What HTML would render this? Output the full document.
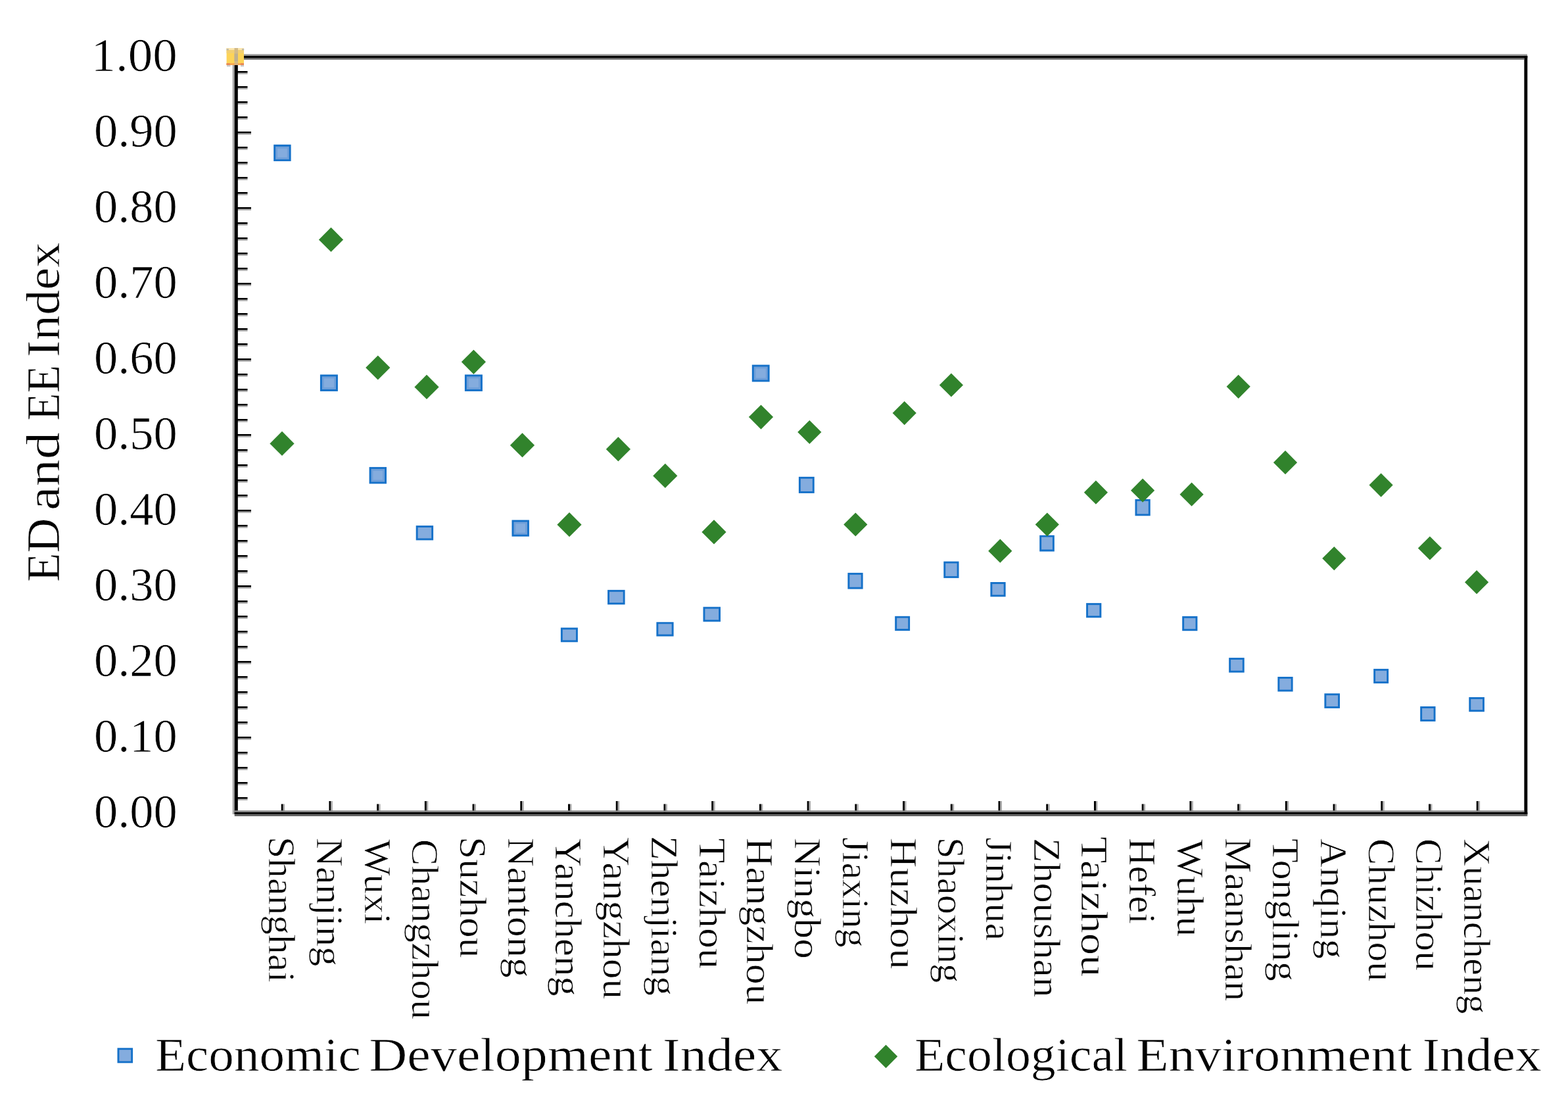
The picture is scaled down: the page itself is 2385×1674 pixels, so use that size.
<!DOCTYPE html>
<html><head><meta charset="utf-8"><title>ED and EE Index</title>
<style>html,body{margin:0;padding:0;background:#fff;}body{width:2385px;height:1674px;overflow:hidden;}svg{display:block;}</style>
</head><body>
<svg width="2385" height="1674" viewBox="0 0 2385 1674">
<rect width="2385" height="1674" fill="#fff"/>
<rect x="361" y="1212.00" width="15.5" height="2.8" fill="#000"/>
<rect x="361" y="1214.80" width="15.5" height="2.2" fill="#b4b4b4"/>
<rect x="361" y="1189.00" width="15.5" height="2.8" fill="#000"/>
<rect x="361" y="1191.80" width="15.5" height="2.2" fill="#b4b4b4"/>
<rect x="361" y="1166.00" width="15.5" height="2.8" fill="#000"/>
<rect x="361" y="1168.80" width="15.5" height="2.2" fill="#b4b4b4"/>
<rect x="361" y="1143.00" width="15.5" height="2.8" fill="#000"/>
<rect x="361" y="1145.80" width="15.5" height="2.2" fill="#b4b4b4"/>
<rect x="361" y="1120.00" width="21" height="2.8" fill="#000"/>
<rect x="361" y="1122.80" width="21" height="2.2" fill="#b4b4b4"/>
<rect x="361" y="1097.00" width="15.5" height="2.8" fill="#000"/>
<rect x="361" y="1099.80" width="15.5" height="2.2" fill="#b4b4b4"/>
<rect x="361" y="1074.00" width="15.5" height="2.8" fill="#000"/>
<rect x="361" y="1076.80" width="15.5" height="2.2" fill="#b4b4b4"/>
<rect x="361" y="1051.00" width="15.5" height="2.8" fill="#000"/>
<rect x="361" y="1053.80" width="15.5" height="2.2" fill="#b4b4b4"/>
<rect x="361" y="1028.00" width="15.5" height="2.8" fill="#000"/>
<rect x="361" y="1030.80" width="15.5" height="2.2" fill="#b4b4b4"/>
<rect x="361" y="1005.00" width="21" height="2.8" fill="#000"/>
<rect x="361" y="1007.80" width="21" height="2.2" fill="#b4b4b4"/>
<rect x="361" y="982.00" width="15.5" height="2.8" fill="#000"/>
<rect x="361" y="984.80" width="15.5" height="2.2" fill="#b4b4b4"/>
<rect x="361" y="959.00" width="15.5" height="2.8" fill="#000"/>
<rect x="361" y="961.80" width="15.5" height="2.2" fill="#b4b4b4"/>
<rect x="361" y="936.00" width="15.5" height="2.8" fill="#000"/>
<rect x="361" y="938.80" width="15.5" height="2.2" fill="#b4b4b4"/>
<rect x="361" y="913.00" width="15.5" height="2.8" fill="#000"/>
<rect x="361" y="915.80" width="15.5" height="2.2" fill="#b4b4b4"/>
<rect x="361" y="890.00" width="21" height="2.8" fill="#000"/>
<rect x="361" y="892.80" width="21" height="2.2" fill="#b4b4b4"/>
<rect x="361" y="867.00" width="15.5" height="2.8" fill="#000"/>
<rect x="361" y="869.80" width="15.5" height="2.2" fill="#b4b4b4"/>
<rect x="361" y="844.00" width="15.5" height="2.8" fill="#000"/>
<rect x="361" y="846.80" width="15.5" height="2.2" fill="#b4b4b4"/>
<rect x="361" y="821.00" width="15.5" height="2.8" fill="#000"/>
<rect x="361" y="823.80" width="15.5" height="2.2" fill="#b4b4b4"/>
<rect x="361" y="798.00" width="15.5" height="2.8" fill="#000"/>
<rect x="361" y="800.80" width="15.5" height="2.2" fill="#b4b4b4"/>
<rect x="361" y="775.00" width="21" height="2.8" fill="#000"/>
<rect x="361" y="777.80" width="21" height="2.2" fill="#b4b4b4"/>
<rect x="361" y="752.00" width="15.5" height="2.8" fill="#000"/>
<rect x="361" y="754.80" width="15.5" height="2.2" fill="#b4b4b4"/>
<rect x="361" y="729.00" width="15.5" height="2.8" fill="#000"/>
<rect x="361" y="731.80" width="15.5" height="2.2" fill="#b4b4b4"/>
<rect x="361" y="706.00" width="15.5" height="2.8" fill="#000"/>
<rect x="361" y="708.80" width="15.5" height="2.2" fill="#b4b4b4"/>
<rect x="361" y="683.00" width="15.5" height="2.8" fill="#000"/>
<rect x="361" y="685.80" width="15.5" height="2.2" fill="#b4b4b4"/>
<rect x="361" y="660.00" width="21" height="2.8" fill="#000"/>
<rect x="361" y="662.80" width="21" height="2.2" fill="#b4b4b4"/>
<rect x="361" y="637.00" width="15.5" height="2.8" fill="#000"/>
<rect x="361" y="639.80" width="15.5" height="2.2" fill="#b4b4b4"/>
<rect x="361" y="614.00" width="15.5" height="2.8" fill="#000"/>
<rect x="361" y="616.80" width="15.5" height="2.2" fill="#b4b4b4"/>
<rect x="361" y="591.00" width="15.5" height="2.8" fill="#000"/>
<rect x="361" y="593.80" width="15.5" height="2.2" fill="#b4b4b4"/>
<rect x="361" y="568.00" width="15.5" height="2.8" fill="#000"/>
<rect x="361" y="570.80" width="15.5" height="2.2" fill="#b4b4b4"/>
<rect x="361" y="545.00" width="21" height="2.8" fill="#000"/>
<rect x="361" y="547.80" width="21" height="2.2" fill="#b4b4b4"/>
<rect x="361" y="522.00" width="15.5" height="2.8" fill="#000"/>
<rect x="361" y="524.80" width="15.5" height="2.2" fill="#b4b4b4"/>
<rect x="361" y="499.00" width="15.5" height="2.8" fill="#000"/>
<rect x="361" y="501.80" width="15.5" height="2.2" fill="#b4b4b4"/>
<rect x="361" y="476.00" width="15.5" height="2.8" fill="#000"/>
<rect x="361" y="478.80" width="15.5" height="2.2" fill="#b4b4b4"/>
<rect x="361" y="453.00" width="15.5" height="2.8" fill="#000"/>
<rect x="361" y="455.80" width="15.5" height="2.2" fill="#b4b4b4"/>
<rect x="361" y="430.00" width="21" height="2.8" fill="#000"/>
<rect x="361" y="432.80" width="21" height="2.2" fill="#b4b4b4"/>
<rect x="361" y="407.00" width="15.5" height="2.8" fill="#000"/>
<rect x="361" y="409.80" width="15.5" height="2.2" fill="#b4b4b4"/>
<rect x="361" y="384.00" width="15.5" height="2.8" fill="#000"/>
<rect x="361" y="386.80" width="15.5" height="2.2" fill="#b4b4b4"/>
<rect x="361" y="361.00" width="15.5" height="2.8" fill="#000"/>
<rect x="361" y="363.80" width="15.5" height="2.2" fill="#b4b4b4"/>
<rect x="361" y="338.00" width="15.5" height="2.8" fill="#000"/>
<rect x="361" y="340.80" width="15.5" height="2.2" fill="#b4b4b4"/>
<rect x="361" y="315.00" width="21" height="2.8" fill="#000"/>
<rect x="361" y="317.80" width="21" height="2.2" fill="#b4b4b4"/>
<rect x="361" y="292.00" width="15.5" height="2.8" fill="#000"/>
<rect x="361" y="294.80" width="15.5" height="2.2" fill="#b4b4b4"/>
<rect x="361" y="269.00" width="15.5" height="2.8" fill="#000"/>
<rect x="361" y="271.80" width="15.5" height="2.2" fill="#b4b4b4"/>
<rect x="361" y="246.00" width="15.5" height="2.8" fill="#000"/>
<rect x="361" y="248.80" width="15.5" height="2.2" fill="#b4b4b4"/>
<rect x="361" y="223.00" width="15.5" height="2.8" fill="#000"/>
<rect x="361" y="225.80" width="15.5" height="2.2" fill="#b4b4b4"/>
<rect x="361" y="200.00" width="21" height="2.8" fill="#000"/>
<rect x="361" y="202.80" width="21" height="2.2" fill="#b4b4b4"/>
<rect x="361" y="177.00" width="15.5" height="2.8" fill="#000"/>
<rect x="361" y="179.80" width="15.5" height="2.2" fill="#b4b4b4"/>
<rect x="361" y="154.00" width="15.5" height="2.8" fill="#000"/>
<rect x="361" y="156.80" width="15.5" height="2.2" fill="#b4b4b4"/>
<rect x="361" y="131.00" width="15.5" height="2.8" fill="#000"/>
<rect x="361" y="133.80" width="15.5" height="2.2" fill="#b4b4b4"/>
<rect x="361" y="108.00" width="15.5" height="2.8" fill="#000"/>
<rect x="361" y="110.80" width="15.5" height="2.2" fill="#b4b4b4"/>
<rect x="427.72" y="1222.5" width="3" height="12.5" fill="#000"/>
<rect x="430.72" y="1222.5" width="2.4" height="12.5" fill="#aaa"/>
<rect x="500.44" y="1218" width="3" height="17" fill="#000"/>
<rect x="503.44" y="1218" width="2.4" height="17" fill="#aaa"/>
<rect x="573.16" y="1222.5" width="3" height="12.5" fill="#000"/>
<rect x="576.16" y="1222.5" width="2.4" height="12.5" fill="#aaa"/>
<rect x="645.88" y="1218" width="3" height="17" fill="#000"/>
<rect x="648.88" y="1218" width="2.4" height="17" fill="#aaa"/>
<rect x="718.60" y="1222.5" width="3" height="12.5" fill="#000"/>
<rect x="721.60" y="1222.5" width="2.4" height="12.5" fill="#aaa"/>
<rect x="791.32" y="1218" width="3" height="17" fill="#000"/>
<rect x="794.32" y="1218" width="2.4" height="17" fill="#aaa"/>
<rect x="864.04" y="1222.5" width="3" height="12.5" fill="#000"/>
<rect x="867.04" y="1222.5" width="2.4" height="12.5" fill="#aaa"/>
<rect x="936.76" y="1218" width="3" height="17" fill="#000"/>
<rect x="939.76" y="1218" width="2.4" height="17" fill="#aaa"/>
<rect x="1009.48" y="1222.5" width="3" height="12.5" fill="#000"/>
<rect x="1012.48" y="1222.5" width="2.4" height="12.5" fill="#aaa"/>
<rect x="1082.20" y="1218" width="3" height="17" fill="#000"/>
<rect x="1085.20" y="1218" width="2.4" height="17" fill="#aaa"/>
<rect x="1154.92" y="1222.5" width="3" height="12.5" fill="#000"/>
<rect x="1157.92" y="1222.5" width="2.4" height="12.5" fill="#aaa"/>
<rect x="1227.64" y="1218" width="3" height="17" fill="#000"/>
<rect x="1230.64" y="1218" width="2.4" height="17" fill="#aaa"/>
<rect x="1300.36" y="1222.5" width="3" height="12.5" fill="#000"/>
<rect x="1303.36" y="1222.5" width="2.4" height="12.5" fill="#aaa"/>
<rect x="1373.08" y="1218" width="3" height="17" fill="#000"/>
<rect x="1376.08" y="1218" width="2.4" height="17" fill="#aaa"/>
<rect x="1445.80" y="1222.5" width="3" height="12.5" fill="#000"/>
<rect x="1448.80" y="1222.5" width="2.4" height="12.5" fill="#aaa"/>
<rect x="1518.52" y="1218" width="3" height="17" fill="#000"/>
<rect x="1521.52" y="1218" width="2.4" height="17" fill="#aaa"/>
<rect x="1591.24" y="1222.5" width="3" height="12.5" fill="#000"/>
<rect x="1594.24" y="1222.5" width="2.4" height="12.5" fill="#aaa"/>
<rect x="1663.96" y="1218" width="3" height="17" fill="#000"/>
<rect x="1666.96" y="1218" width="2.4" height="17" fill="#aaa"/>
<rect x="1736.68" y="1222.5" width="3" height="12.5" fill="#000"/>
<rect x="1739.68" y="1222.5" width="2.4" height="12.5" fill="#aaa"/>
<rect x="1809.40" y="1218" width="3" height="17" fill="#000"/>
<rect x="1812.40" y="1218" width="2.4" height="17" fill="#aaa"/>
<rect x="1882.12" y="1222.5" width="3" height="12.5" fill="#000"/>
<rect x="1885.12" y="1222.5" width="2.4" height="12.5" fill="#aaa"/>
<rect x="1954.84" y="1218" width="3" height="17" fill="#000"/>
<rect x="1957.84" y="1218" width="2.4" height="17" fill="#aaa"/>
<rect x="2027.56" y="1222.5" width="3" height="12.5" fill="#000"/>
<rect x="2030.56" y="1222.5" width="2.4" height="12.5" fill="#aaa"/>
<rect x="2100.28" y="1218" width="3" height="17" fill="#000"/>
<rect x="2103.28" y="1218" width="2.4" height="17" fill="#aaa"/>
<rect x="2173.00" y="1222.5" width="3" height="12.5" fill="#000"/>
<rect x="2176.00" y="1222.5" width="2.4" height="12.5" fill="#aaa"/>
<rect x="2245.72" y="1218" width="3" height="17" fill="#000"/>
<rect x="2248.72" y="1218" width="2.4" height="17" fill="#aaa"/>
<rect x="357" y="82.3" width="1966" height="2.6" fill="#9a9a9a"/>
<rect x="357" y="84.9" width="1966.3" height="3.4" fill="#000"/>
<rect x="357" y="88.3" width="1961" height="2.3" fill="#5a5a5a"/>
<rect x="353.6" y="86" width="3.2" height="1152" fill="#ababab"/>
<rect x="356.7" y="85" width="5.1" height="1153" fill="#000"/>
<rect x="2318.4" y="84.9" width="4.9" height="1153.5" fill="#000"/>
<rect x="357" y="1232.3" width="1961" height="2.6" fill="#8a8a8a"/>
<rect x="356.7" y="1234.9" width="1966.6" height="3.3" fill="#000"/>
<rect x="356.7" y="1238.2" width="1966.6" height="2.8" fill="#626262"/>
<g><rect x="344.6" y="73" width="26.4" height="26" fill="#fdd458"/><rect x="344.6" y="73" width="26.4" height="3.2" fill="#fce6ad"/><rect x="344.6" y="76" width="26.4" height="5" fill="#f2cf72"/><rect x="356.5" y="73" width="5.5" height="26" fill="#d2ba88"/><rect x="356.5" y="81.5" width="5.5" height="11.5" fill="#bfb08f"/><rect x="344.6" y="96" width="26.4" height="3" fill="#f7a750"/><rect x="344.6" y="96" width="5" height="3" fill="#e98a55"/><rect x="366" y="96" width="5" height="3" fill="#e98a55"/><rect x="356.5" y="96" width="5.5" height="3" fill="#dcb27c"/><rect x="344.6" y="74" width="3.2" height="2.4" fill="#a8a8a8" opacity="0.7"/><rect x="368" y="74" width="3.2" height="2.4" fill="#a8a8a8" opacity="0.7"/><rect x="345" y="99" width="5.5" height="2.4" fill="#a8a8a8" opacity="0.6"/><rect x="366" y="99" width="5" height="2.4" fill="#a8a8a8" opacity="0.6"/></g>
<rect x="416.2" y="219.8" width="26.4" height="25.3" fill="#1571c9"/>
<rect x="419.1" y="222.8" width="20.6" height="19.5" fill="#6f9fd9"/>
<rect x="422.0" y="225.7" width="14.8" height="13.7" fill="#84acde"/>
<rect x="486.9" y="569.5" width="27.0" height="25.4" fill="#1571c9"/>
<rect x="489.8" y="572.4" width="21.2" height="19.6" fill="#6f9fd9"/>
<rect x="492.7" y="575.3" width="15.4" height="13.8" fill="#84acde"/>
<rect x="561.6" y="710.1" width="26.4" height="25.4" fill="#1571c9"/>
<rect x="564.5" y="713.0" width="20.6" height="19.6" fill="#6f9fd9"/>
<rect x="567.4" y="715.9" width="14.8" height="13.8" fill="#84acde"/>
<rect x="632.7" y="799.1" width="26.4" height="22.3" fill="#1571c9"/>
<rect x="635.6" y="802.0" width="20.6" height="16.5" fill="#84acde"/>
<rect x="706.9" y="569.5" width="27.0" height="25.4" fill="#1571c9"/>
<rect x="709.8" y="572.4" width="21.2" height="19.6" fill="#6f9fd9"/>
<rect x="712.7" y="575.3" width="15.4" height="13.8" fill="#84acde"/>
<rect x="778.5" y="790.6" width="26.4" height="25.1" fill="#1571c9"/>
<rect x="781.4" y="793.5" width="20.6" height="19.3" fill="#6f9fd9"/>
<rect x="784.3" y="796.4" width="14.8" height="13.5" fill="#84acde"/>
<rect x="852.9" y="954.3" width="26.0" height="22.0" fill="#1571c9"/>
<rect x="855.8" y="957.2" width="20.2" height="16.2" fill="#84acde"/>
<rect x="924.1" y="896.9" width="26.5" height="22.3" fill="#1571c9"/>
<rect x="927.0" y="899.8" width="20.7" height="16.5" fill="#84acde"/>
<rect x="998.4" y="945.8" width="26.2" height="21.7" fill="#1571c9"/>
<rect x="1001.3" y="948.6" width="20.4" height="15.9" fill="#84acde"/>
<rect x="1069.5" y="922.7" width="26.5" height="22.6" fill="#1571c9"/>
<rect x="1072.4" y="925.6" width="20.7" height="16.8" fill="#84acde"/>
<rect x="1143.8" y="554.6" width="26.8" height="25.9" fill="#1571c9"/>
<rect x="1146.7" y="557.5" width="21.0" height="20.1" fill="#6f9fd9"/>
<rect x="1149.6" y="560.4" width="15.2" height="14.3" fill="#84acde"/>
<rect x="1214.9" y="724.9" width="23.8" height="25.0" fill="#1571c9"/>
<rect x="1217.8" y="727.8" width="18.0" height="19.2" fill="#84acde"/>
<rect x="1289.4" y="870.9" width="23.2" height="24.7" fill="#1571c9"/>
<rect x="1292.3" y="873.8" width="17.4" height="18.9" fill="#84acde"/>
<rect x="1361.2" y="936.8" width="22.9" height="22.3" fill="#1571c9"/>
<rect x="1364.2" y="939.6" width="17.1" height="16.5" fill="#84acde"/>
<rect x="1435.3" y="853.6" width="23.2" height="25.3" fill="#1571c9"/>
<rect x="1438.2" y="856.5" width="17.4" height="19.5" fill="#84acde"/>
<rect x="1506.4" y="885.0" width="23.2" height="22.3" fill="#1571c9"/>
<rect x="1509.3" y="887.9" width="17.4" height="16.5" fill="#84acde"/>
<rect x="1581.2" y="813.8" width="22.6" height="24.7" fill="#1571c9"/>
<rect x="1584.1" y="816.6" width="16.8" height="18.9" fill="#84acde"/>
<rect x="1652.1" y="916.9" width="23.2" height="22.3" fill="#1571c9"/>
<rect x="1655.0" y="919.8" width="17.4" height="16.5" fill="#84acde"/>
<rect x="1726.5" y="759.0" width="23.2" height="25.3" fill="#1571c9"/>
<rect x="1729.4" y="761.9" width="17.4" height="19.5" fill="#84acde"/>
<rect x="1798.2" y="936.9" width="23.2" height="22.3" fill="#1571c9"/>
<rect x="1801.1" y="939.8" width="17.4" height="16.5" fill="#84acde"/>
<rect x="1869.2" y="1000.1" width="23.5" height="22.5" fill="#1571c9"/>
<rect x="1872.1" y="1003.0" width="17.7" height="16.7" fill="#84acde"/>
<rect x="1943.4" y="1029.0" width="23.2" height="22.5" fill="#1571c9"/>
<rect x="1946.3" y="1031.9" width="17.4" height="16.7" fill="#84acde"/>
<rect x="2014.4" y="1054.3" width="23.6" height="22.6" fill="#1571c9"/>
<rect x="2017.3" y="1057.2" width="17.8" height="16.8" fill="#84acde"/>
<rect x="2089.2" y="1016.9" width="22.9" height="22.2" fill="#1571c9"/>
<rect x="2092.1" y="1019.8" width="17.1" height="16.4" fill="#84acde"/>
<rect x="2160.2" y="1074.0" width="23.3" height="22.9" fill="#1571c9"/>
<rect x="2163.1" y="1076.9" width="17.5" height="17.1" fill="#84acde"/>
<rect x="2234.3" y="1060.0" width="23.6" height="22.2" fill="#1571c9"/>
<rect x="2237.2" y="1062.9" width="17.8" height="16.4" fill="#84acde"/>
<polygon points="429.0,655.8 447.6,674.4 429.0,693.0 410.4,674.4" fill="#31832c"/>
<polygon points="503.5,345.8 522.1,364.4 503.5,383.0 484.9,364.4" fill="#31832c"/>
<polygon points="574.8,540.4 593.4,559.0 574.8,577.6 556.2,559.0" fill="#31832c"/>
<polygon points="649.0,569.8 667.6,588.4 649.0,607.0 630.4,588.4" fill="#31832c"/>
<polygon points="720.4,531.7 739.0,550.3 720.4,568.9 701.8,550.3" fill="#31832c"/>
<polygon points="794.5,658.3 813.1,676.9 794.5,695.5 775.9,676.9" fill="#31832c"/>
<polygon points="866.0,779.1 884.6,797.7 866.0,816.3 847.4,797.7" fill="#31832c"/>
<polygon points="940.4,664.3 959.0,682.9 940.4,701.5 921.8,682.9" fill="#31832c"/>
<polygon points="1011.8,704.8 1030.4,723.4 1011.8,742.0 993.2,723.4" fill="#31832c"/>
<polygon points="1086.0,790.3 1104.6,808.9 1086.0,827.5 1067.4,808.9" fill="#31832c"/>
<polygon points="1157.5,615.5 1176.1,634.1 1157.5,652.7 1138.9,634.1" fill="#31832c"/>
<polygon points="1231.3,638.9 1249.4,657.0 1231.3,675.1 1213.2,657.0" fill="#31832c"/>
<polygon points="1301.3,779.4 1319.4,797.5 1301.3,815.6 1283.2,797.5" fill="#31832c"/>
<polygon points="1375.7,610.0 1393.8,628.1 1375.7,646.2 1357.6,628.1" fill="#31832c"/>
<polygon points="1446.9,567.4 1465.0,585.5 1446.9,603.6 1428.8,585.5" fill="#31832c"/>
<polygon points="1521.3,819.6 1539.4,837.7 1521.3,855.8 1503.2,837.7" fill="#31832c"/>
<polygon points="1592.8,779.4 1610.9,797.5 1592.8,815.6 1574.7,797.5" fill="#31832c"/>
<polygon points="1666.9,730.6 1685.0,748.7 1666.9,766.8 1648.8,748.7" fill="#31832c"/>
<polygon points="1738.1,727.6 1756.2,745.7 1738.1,763.8 1720.0,745.7" fill="#31832c"/>
<polygon points="1812.6,733.6 1830.7,751.7 1812.6,769.8 1794.5,751.7" fill="#31832c"/>
<polygon points="1883.7,569.7 1901.8,587.8 1883.7,605.9 1865.6,587.8" fill="#31832c"/>
<polygon points="1955.0,685.1 1973.1,703.2 1955.0,721.3 1936.9,703.2" fill="#31832c"/>
<polygon points="2029.3,831.0 2047.4,849.1 2029.3,867.2 2011.2,849.1" fill="#31832c"/>
<polygon points="2100.6,719.5 2118.7,737.6 2100.6,755.7 2082.5,737.6" fill="#31832c"/>
<polygon points="2174.9,815.4 2193.0,833.5 2174.9,851.6 2156.8,833.5" fill="#31832c"/>
<polygon points="2246.1,867.1 2264.2,885.2 2246.1,903.3 2228.0,885.2" fill="#31832c"/>
<rect x="178.5" y="1593.3" width="23.6" height="23" fill="#1571c9"/>
<rect x="181.4" y="1596.2" width="17.8" height="17.2" fill="#84acde"/>
<polygon points="1347.5,1588.6 1365.2,1606.3 1347.5,1624 1329.8,1606.3" fill="#31832c"/>
<g font-family='"Liberation Serif", serif' fill="#000" stroke="#fff" stroke-width="0.7">
<text x="142.95" y="1258.1" font-size="72.5" textLength="126.76" lengthAdjust="spacingAndGlyphs">0.00</text>
<text x="142.95" y="1143.1" font-size="72.5" textLength="126.76" lengthAdjust="spacingAndGlyphs">0.10</text>
<text x="142.95" y="1028.1" font-size="72.5" textLength="126.76" lengthAdjust="spacingAndGlyphs">0.20</text>
<text x="142.95" y="913.1" font-size="72.5" textLength="126.76" lengthAdjust="spacingAndGlyphs">0.30</text>
<text x="142.95" y="798.1" font-size="72.5" textLength="126.76" lengthAdjust="spacingAndGlyphs">0.40</text>
<text x="142.95" y="683.1" font-size="72.5" textLength="126.76" lengthAdjust="spacingAndGlyphs">0.50</text>
<text x="142.95" y="568.1" font-size="72.5" textLength="126.76" lengthAdjust="spacingAndGlyphs">0.60</text>
<text x="142.95" y="453.1" font-size="72.5" textLength="126.76" lengthAdjust="spacingAndGlyphs">0.70</text>
<text x="142.95" y="338.1" font-size="72.5" textLength="126.76" lengthAdjust="spacingAndGlyphs">0.80</text>
<text x="142.95" y="223.1" font-size="72.5" textLength="126.76" lengthAdjust="spacingAndGlyphs">0.90</text>
<text x="138.60" y="108.1" font-size="72.5" textLength="131.20" lengthAdjust="spacingAndGlyphs">1.00</text>
<text transform="translate(409.1,1271.90) rotate(90)" font-size="58" textLength="222.02" lengthAdjust="spacingAndGlyphs">Shanghai</text>
<text transform="translate(481.8,1274.02) rotate(90)" font-size="58" textLength="195.22" lengthAdjust="spacingAndGlyphs">Nanjing</text>
<text transform="translate(554.6,1275.95) rotate(90)" font-size="58" textLength="129.41" lengthAdjust="spacingAndGlyphs">Wuxi</text>
<text transform="translate(627.3,1276.07) rotate(90)" font-size="58" textLength="274.01" lengthAdjust="spacingAndGlyphs">Changzhou</text>
<text transform="translate(700.0,1271.97) rotate(90)" font-size="58" textLength="184.44" lengthAdjust="spacingAndGlyphs">Suzhou</text>
<text transform="translate(772.7,1273.51) rotate(90)" font-size="58" textLength="213.24" lengthAdjust="spacingAndGlyphs">Nantong</text>
<text transform="translate(845.4,1274.50) rotate(90)" font-size="58" textLength="240.11" lengthAdjust="spacingAndGlyphs">Yancheng</text>
<text transform="translate(918.2,1272.98) rotate(90)" font-size="58" textLength="246.31" lengthAdjust="spacingAndGlyphs">Yangzhou</text>
<text transform="translate(990.9,1270.99) rotate(90)" font-size="58" textLength="243.13" lengthAdjust="spacingAndGlyphs">Zhenjiang</text>
<text transform="translate(1063.6,1274.48) rotate(90)" font-size="58" textLength="198.39" lengthAdjust="spacingAndGlyphs">Taizhou</text>
<text transform="translate(1136.3,1273.50) rotate(90)" font-size="58" textLength="254.02" lengthAdjust="spacingAndGlyphs">Hangzhou</text>
<text transform="translate(1209.0,1273.93) rotate(90)" font-size="58" textLength="183.89" lengthAdjust="spacingAndGlyphs">Ningbo</text>
<text transform="translate(1281.8,1272.95) rotate(90)" font-size="58" textLength="167.42" lengthAdjust="spacingAndGlyphs">Jiaxing</text>
<text transform="translate(1354.5,1273.94) rotate(90)" font-size="58" textLength="199.91" lengthAdjust="spacingAndGlyphs">Huzhou</text>
<text transform="translate(1427.2,1272.91) rotate(90)" font-size="58" textLength="221.48" lengthAdjust="spacingAndGlyphs">Shaoxing</text>
<text transform="translate(1499.9,1272.95) rotate(90)" font-size="58" textLength="157.15" lengthAdjust="spacingAndGlyphs">Jinhua</text>
<text transform="translate(1572.6,1273.99) rotate(90)" font-size="58" textLength="242.64" lengthAdjust="spacingAndGlyphs">Zhoushan</text>
<text transform="translate(1645.4,1271.98) rotate(90)" font-size="58" textLength="213.31" lengthAdjust="spacingAndGlyphs">Taizhou</text>
<text transform="translate(1718.1,1273.91) rotate(90)" font-size="58" textLength="130.92" lengthAdjust="spacingAndGlyphs">Hefei</text>
<text transform="translate(1790.8,1275.97) rotate(90)" font-size="58" textLength="148.46" lengthAdjust="spacingAndGlyphs">Wuhu</text>
<text transform="translate(1863.5,1274.00) rotate(90)" font-size="58" textLength="248.34" lengthAdjust="spacingAndGlyphs">Maanshan</text>
<text transform="translate(1936.2,1275.00) rotate(90)" font-size="58" textLength="216.83" lengthAdjust="spacingAndGlyphs">Tongling</text>
<text transform="translate(2009.0,1274.97) rotate(90)" font-size="58" textLength="182.96" lengthAdjust="spacingAndGlyphs">Anqing</text>
<text transform="translate(2081.7,1275.00) rotate(90)" font-size="58" textLength="217.45" lengthAdjust="spacingAndGlyphs">Chuzhou</text>
<text transform="translate(2154.4,1275.00) rotate(90)" font-size="58" textLength="200.87" lengthAdjust="spacingAndGlyphs">Chizhou</text>
<text transform="translate(2227.1,1274.98) rotate(90)" font-size="58" textLength="266.42" lengthAdjust="spacingAndGlyphs">Xuancheng</text>
<text transform="translate(90,885.11) rotate(-90)" font-size="72" textLength="97.51" lengthAdjust="spacingAndGlyphs">ED</text>
<text transform="translate(90,776.11) rotate(-90)" font-size="72" textLength="119.05" lengthAdjust="spacingAndGlyphs">and</text>
<text transform="translate(90,639.67) rotate(-90)" font-size="72" textLength="84.77" lengthAdjust="spacingAndGlyphs">EE</text>
<text transform="translate(90,543.01) rotate(-90)" font-size="72" textLength="174.63" lengthAdjust="spacingAndGlyphs">Index</text>
<text x="236.02" y="1628" font-size="71" textLength="312.67" lengthAdjust="spacingAndGlyphs">Economic</text>
<text x="561.55" y="1628" font-size="71" textLength="431.21" lengthAdjust="spacingAndGlyphs">Development</text>
<text x="1008.00" y="1628" font-size="71" textLength="182.39" lengthAdjust="spacingAndGlyphs">Index</text>
<text x="1391.02" y="1628" font-size="71" textLength="324.09" lengthAdjust="spacingAndGlyphs">Ecological</text>
<text x="1728.52" y="1628" font-size="71" textLength="419.36" lengthAdjust="spacingAndGlyphs">Environment</text>
<text x="2163.45" y="1628" font-size="71" textLength="181.36" lengthAdjust="spacingAndGlyphs">Index</text>
</g>
</svg>
</body></html>
